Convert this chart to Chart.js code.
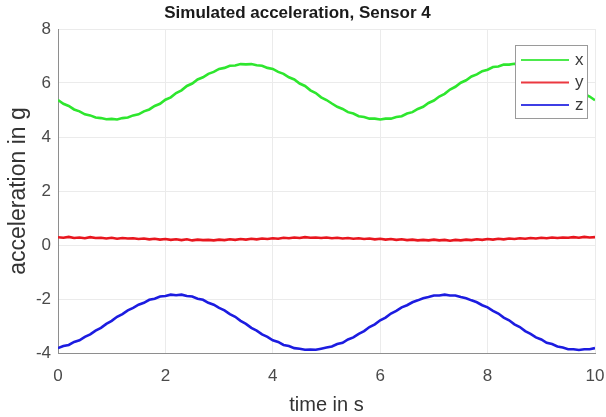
<!DOCTYPE html>
<html>
<head>
<meta charset="utf-8">
<script src="https://cdn.jsdelivr.net/npm/chart.js@4.4.1/dist/chart.umd.min.js"></script>
<style>
  html, body { margin: 0; padding: 0; background: #ffffff; }
  #wrap { width: 606px; height: 417px; }
</style>
</head>
<body>
<div id="wrap"><canvas id="c" width="606" height="417"></canvas></div>
<script>
// Sample times (s)
const timeS = [
  0.0,0.1,0.2,0.3,0.4,0.5,0.6,0.7,0.8,0.9,
  1.0,1.1,1.2,1.3,1.4,1.5,1.6,1.7,1.8,1.9,
  2.0,2.1,2.2,2.3,2.4,2.5,2.6,2.7,2.8,2.9,
  3.0,3.1,3.2,3.3,3.4,3.5,3.6,3.7,3.8,3.9,
  4.0,4.1,4.2,4.3,4.4,4.5,4.6,4.7,4.8,4.9,
  5.0,5.1,5.2,5.3,5.4,5.5,5.6,5.7,5.8,5.9,
  6.0,6.1,6.2,6.3,6.4,6.5,6.6,6.7,6.8,6.9,
  7.0,7.1,7.2,7.3,7.4,7.5,7.6,7.7,7.8,7.9,
  8.0,8.1,8.2,8.3,8.4,8.5,8.6,8.7,8.8,8.9,
  9.0,9.1,9.2,9.3,9.4,9.5,9.6,9.7,9.8,9.9,
  10.0
];

// Acceleration along x (g)
const accX = [
  5.37,5.23,5.15,5.02,4.95,4.84,4.80,4.72,4.70,4.66,
  4.67,4.65,4.70,4.72,4.80,4.84,4.95,5.02,5.15,5.23,
  5.38,5.47,5.63,5.73,5.89,5.98,6.13,6.21,6.34,6.41,
  6.52,6.56,6.64,6.65,6.70,6.69,6.70,6.66,6.64,6.56,
  6.52,6.41,6.34,6.21,6.13,5.98,5.89,5.73,5.63,5.47,
  5.37,5.24,5.12,5.04,4.92,4.87,4.77,4.74,4.68,4.68,
  4.65,4.68,4.68,4.74,4.77,4.87,4.92,5.04,5.12,5.26,
  5.35,5.50,5.60,5.76,5.86,6.01,6.10,6.24,6.32,6.44,
  6.49,6.59,6.61,6.68,6.68,6.71,6.68,6.68,6.61,6.59,
  6.49,6.44,6.32,6.24,6.10,6.01,5.86,5.76,5.60,5.50,
  5.36
];

// Acceleration along y (g)
const accY = [
  0.29,0.27,0.30,0.26,0.28,0.25,0.29,0.26,0.27,0.24,
  0.27,0.23,0.26,0.24,0.25,0.22,0.24,0.21,0.23,0.20,
  0.22,0.19,0.21,0.18,0.21,0.17,0.20,0.18,0.19,0.17,
  0.20,0.18,0.21,0.19,0.22,0.20,0.23,0.21,0.24,0.22,
  0.25,0.23,0.27,0.25,0.28,0.26,0.29,0.27,0.28,0.26,
  0.28,0.25,0.27,0.24,0.26,0.23,0.25,0.22,0.24,0.21,
  0.23,0.20,0.22,0.19,0.21,0.18,0.20,0.17,0.19,0.17,
  0.20,0.17,0.19,0.16,0.19,0.17,0.20,0.18,0.21,0.19,
  0.22,0.20,0.23,0.21,0.24,0.22,0.25,0.23,0.26,0.24,
  0.27,0.25,0.28,0.26,0.28,0.27,0.29,0.27,0.30,0.28,
  0.29
];

// Acceleration along z (g)
const accZ = [
  -3.82,-3.74,-3.70,-3.59,-3.53,-3.40,-3.31,-3.17,-3.07,-2.92,
  -2.81,-2.66,-2.56,-2.42,-2.33,-2.21,-2.14,-2.03,-1.99,-1.91,
  -1.89,-1.84,-1.86,-1.84,-1.89,-1.91,-1.99,-2.03,-2.14,-2.21,
  -2.33,-2.42,-2.56,-2.66,-2.81,-2.92,-3.07,-3.17,-3.31,-3.40,
  -3.53,-3.59,-3.70,-3.74,-3.82,-3.84,-3.88,-3.87,-3.88,-3.84,
  -3.80,-3.76,-3.67,-3.62,-3.50,-3.42,-3.29,-3.19,-3.04,-2.94,
  -2.79,-2.69,-2.54,-2.44,-2.31,-2.23,-2.12,-2.05,-1.97,-1.93,
  -1.87,-1.87,-1.84,-1.87,-1.87,-1.93,-1.97,-2.05,-2.12,-2.23,
  -2.31,-2.44,-2.54,-2.69,-2.79,-2.94,-3.04,-3.19,-3.29,-3.42,
  -3.50,-3.62,-3.67,-3.76,-3.80,-3.86,-3.86,-3.89,-3.86,-3.86,
  -3.82
];

const seriesNames = ['x', 'y', 'z'];
const seriesColors = ['#2ee62e', '#e8161e', '#1c1ce0'];
const xTicks = [0, 2, 4, 6, 8, 10];
const yTicks = [-4, -2, 0, 2, 4, 6, 8];

const FONT = '"Liberation Sans", Arial, Helvetica, sans-serif';

function toPoints(values) {
  return values.map((v, i) => ({ x: timeS[i], y: v }));
}

// Legend box drawn inside the upper-right corner of the plot area
const insetLegend = {
  id: 'insetLegend',
  afterDatasetsDraw(chart) {
    const { ctx, chartArea } = chart;
    const w = 73, h = 74;
    const x0 = chartArea.right - 7 - w;
    const y0 = chartArea.top + 16;
    ctx.save();
    ctx.fillStyle = '#ffffff';
    ctx.fillRect(x0, y0, w, h);
    ctx.strokeStyle = '#9a9a9a';
    ctx.lineWidth = 1;
    ctx.strokeRect(x0 + 0.5, y0 + 0.5, w - 1, h - 1);
    ctx.font = '17px ' + FONT;
    ctx.textBaseline = 'middle';
    ctx.textAlign = 'left';
    chart.data.datasets.forEach((ds, i) => {
      const ry = y0 + 15 + i * 22.5;
      ctx.strokeStyle = ds.borderColor;
      ctx.globalAlpha = 0.85;
      ctx.lineWidth = 2;
      ctx.beginPath();
      ctx.moveTo(x0 + 6, ry);
      ctx.lineTo(x0 + 54, ry);
      ctx.stroke();
      ctx.globalAlpha = 1;
      ctx.fillStyle = '#3a3a3a';
      ctx.fillText(ds.label, x0 + 60, ry);
    });
    ctx.restore();
  }
};

new Chart(document.getElementById('c'), {
  type: 'line',
  data: {
    datasets: [accX, accY, accZ].map((vals, i) => ({
      label: seriesNames[i],
      data: toPoints(vals),
      borderColor: seriesColors[i],
      backgroundColor: seriesColors[i],
      borderWidth: 2.6,
      pointRadius: 0,
      tension: 0,
      fill: false
    }))
  },
  options: {
    responsive: false,
    animation: false,
    layout: { autoPadding: false, padding: { left: 0, right: 11, top: 0, bottom: 0 } },
    plugins: {
      legend: { display: false },
      tooltip: { enabled: false },
      title: {
        display: true,
        text: 'Simulated acceleration, Sensor 4',
        color: '#1a1a1a',
        font: { family: FONT, size: 17, weight: 'bold' },
        padding: { top: 3, bottom: 5.6 }
      }
    },
    scales: {
      x: {
        type: 'linear',
        min: 0,
        max: 10,
        afterBuildTicks: s => { s.ticks = xTicks.map(v => ({ value: v })); },
        afterFit: s => { s.height = 64; s.paddingLeft = 0; s.paddingRight = 0; },
        grid: { color: '#ebebeb', lineWidth: 1, drawTicks: false },
        border: { color: '#8e8e8e', width: 1 },
        ticks: { color: '#4a4a4a', font: { family: FONT, size: 17 }, padding: 13, maxRotation: 0 },
        title: {
          display: true,
          text: 'time in s',
          color: '#333333',
          font: { family: FONT, size: 20 },
          padding: { top: 0, bottom: 0 }
        }
      },
      y: {
        type: 'linear',
        min: -4,
        max: 8,
        afterBuildTicks: s => { s.ticks = yTicks.map(v => ({ value: v })); },
        afterFit: s => { s.width = 58; s.paddingTop = 0; s.paddingBottom = 0; },
        grid: { color: '#ebebeb', lineWidth: 1, drawTicks: false },
        border: { color: '#8e8e8e', width: 1 },
        ticks: { color: '#4a4a4a', font: { family: FONT, size: 17 }, padding: 7 },
        title: {
          display: true,
          text: 'acceleration in g',
          color: '#333333',
          font: { family: FONT, size: 23 },
          padding: { top: 5, bottom: 0 }
        }
      }
    }
  },
  plugins: [insetLegend]
});
</script>
</body>
</html>
